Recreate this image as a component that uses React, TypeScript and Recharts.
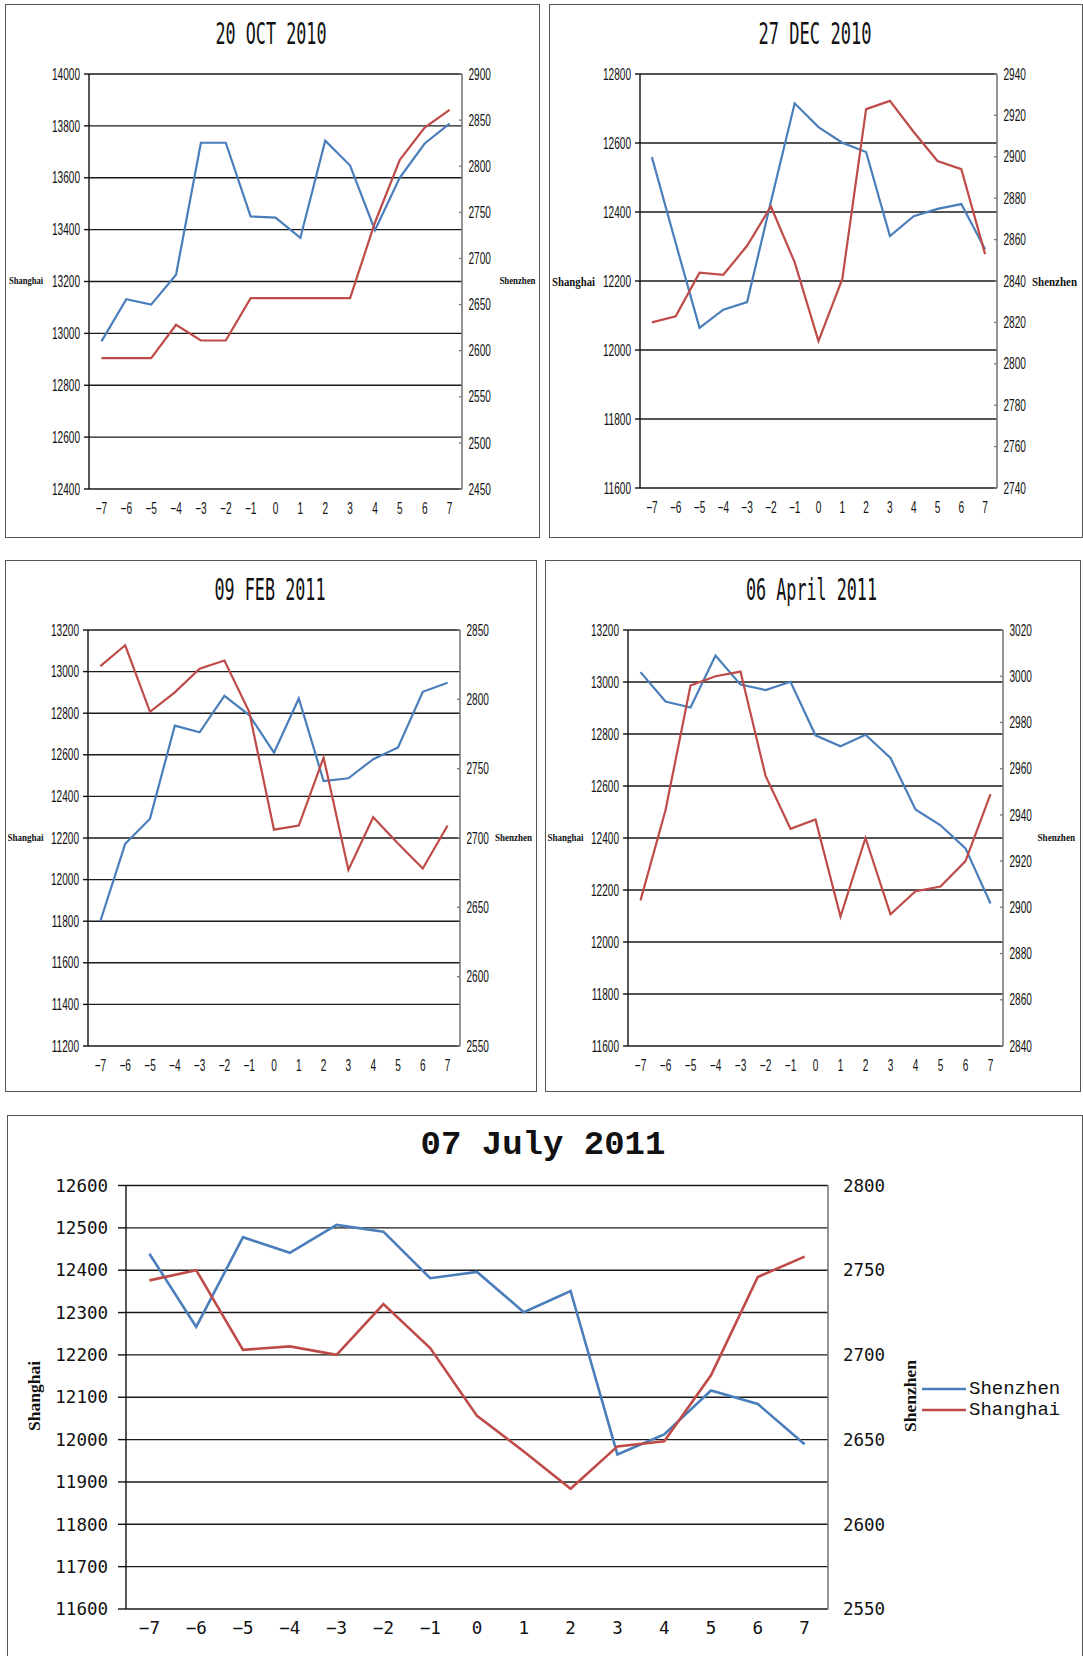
import React from 'react';
import { LineChart, Line, XAxis, YAxis, CartesianGrid, Legend } from 'recharts';

const BLUE = '#4A7EBB';
const RED = '#BE4B48';

// trading days around each date
const xCats = [-7, -6, -5, -4, -3, -2, -1, 0, 1, 2, 3, 4, 5, 6, 7];

// 20 Oct 2010
const oct10Shenzhen = [12969, 13132, 13111, 13226, 13735, 13735, 13451, 13446, 13368, 13743, 13647, 13398, 13601, 13732, 13809];
const oct10Shanghai = [2592, 2592, 2592, 2628, 2611, 2611, 2657, 2657, 2657, 2657, 2657, 2739, 2807, 2842, 2861];
const oct10Left = [12400, 12600, 12800, 13000, 13200, 13400, 13600, 13800, 14000];
const oct10Right = [2450, 2500, 2550, 2600, 2650, 2700, 2750, 2800, 2850, 2900];

// 27 Dec 2010
const dec10Shenzhen = [12559, 12310, 12064, 12117, 12139, 12430, 12715, 12646, 12601, 12574, 12330, 12388, 12409, 12423, 12292];
const dec10Shanghai = [2820, 2823, 2844, 2843, 2857, 2876, 2849, 2811, 2841, 2923, 2927, 2912, 2898, 2894, 2853];
const dec10Left = [11600, 11800, 12000, 12200, 12400, 12600, 12800];
const dec10Right = [2740, 2760, 2780, 2800, 2820, 2840, 2860, 2880, 2900, 2920, 2940];

// 09 Feb 2011
const feb11Shenzhen = [11801, 12172, 12293, 12740, 12708, 12883, 12791, 12610, 12871, 12474, 12487, 12579, 12635, 12903, 12946];
const feb11Shanghai = [2824, 2839, 2791, 2805, 2822, 2828, 2791, 2706, 2709, 2758, 2677, 2715, 2696, 2678, 2709];
const feb11Left = [11200, 11400, 11600, 11800, 12000, 12200, 12400, 12600, 12800, 13000, 13200];
const feb11Right = [2550, 2600, 2650, 2700, 2750, 2800, 2850];

// 06 April 2011
const apr11Shenzhen = [13038, 12925, 12902, 13102, 12990, 12969, 13001, 12795, 12753, 12797, 12708, 12510, 12449, 12360, 12148];
const apr11Shanghai = [2903, 2942, 2996, 3000, 3002, 2957, 2934, 2938, 2896, 2930, 2897, 2907, 2909, 2920, 2949];
const apr11Left = [11600, 11800, 12000, 12200, 12400, 12600, 12800, 13000, 13200];
const apr11Right = [2840, 2860, 2880, 2900, 2920, 2940, 2960, 2980, 3000, 3020];

// 07 July 2011
const jul11Shenzhen = [12439, 12266, 12478, 12441, 12507, 12491, 12381, 12396, 12301, 12351, 11965, 12012, 12116, 12084, 11989];
const jul11Shanghai = [2744, 2750, 2703, 2705, 2700, 2730, 2704, 2664, 2643, 2621, 2646, 2649, 2688, 2746, 2758];
const jul11Left = [11600, 11700, 11800, 11900, 12000, 12100, 12200, 12300, 12400, 12500, 12600];
const jul11Right = [2550, 2600, 2650, 2700, 2750, 2800];

type Box = { x: number; y: number; w: number; h: number };
type Plot = { l: number; r: number; t: number; b: number };
type Txt = { fs: number; sx: number; font: string };

interface PanelCfg {
  box: Box;
  plot: Plot;
  blue: number[];
  red: number[];
  lTicks: number[];
  rTicks: number[];
  title: string;
  titleCx: number;
  titleW: number;
  lab: { lx: number; lw: number; lfs: number; rx: number; rw: number; rfs: number; base: number };
  big?: boolean;
}

const minus = (v: number) => (v < 0 ? '\u2212' + Math.abs(v) : String(v));

function tickRenderer(st: Txt, bottom: boolean, fmt?: (v: number) => string) {
  return (p: any) => (
    <text
      transform={`translate(${p.x},${p.y}) scale(${st.sx},1)`}
      textAnchor={p.textAnchor}
      dy={bottom ? '0.71em' : '0.355em'}
      fontSize={st.fs}
      fontFamily={st.font}
      fill="#111"
    >
      {fmt ? fmt(p.payload.value) : p.payload.value}
    </text>
  );
}

const renderLegend = (props: any) => (
  <div>
    {(props.payload || []).map((e: any) => (
      <div key={e.value} style={{ display: 'flex', alignItems: 'center', height: 21 }}>
        <svg width={44} height={4} style={{ display: 'block' }}>
          <line x1={0} y1={2} x2={44} y2={2} stroke={e.color} strokeWidth={2.6} />
        </svg>
        <span style={{ fontFamily: '"Liberation Mono", monospace', fontSize: 19, marginLeft: 3, color: '#111' }}>
          {e.value}
        </span>
      </div>
    ))}
  </div>
);

function Panel({ c }: { c: PanelCfg }) {
  const { box, plot } = c;
  const big = !!c.big;
  const rows = xCats.map((x, i) => ({ x, b: c.blue[i], r: c.red[i] }));
  const marks = [...xCats.map((v) => v - 0.5), xCats[xCats.length - 1] + 0.5];
  const txt: Txt = big
    ? { fs: 17.5, sx: 1, font: '"DejaVu Sans Mono", monospace' }
    : { fs: 16, sx: 0.63, font: '"Liberation Sans", Arial, sans-serif' };
  const rightW = big ? 80 : box.w - plot.r;
  const marginRight = big ? box.w - plot.r - rightW : 0;
  const lw = big ? 2.6 : 2.2;
  const serif = '"Liberation Serif", serif';

  return (
    <>
      <div
        style={{
          position: 'absolute',
          left: box.x,
          top: box.y,
          width: box.w,
          height: box.h,
          border: '1.5px solid #555',
          boxSizing: 'border-box',
        }}
      />
      <div style={{ position: 'absolute', left: box.x, top: box.y }}>
        <LineChart
          width={box.w}
          height={box.h}
          data={rows}
          margin={{ top: plot.t, right: marginRight, bottom: 0, left: 0 }}
        >
          <CartesianGrid xAxisId="v" yAxisId="l" vertical={false} stroke="#1a1a1a" strokeWidth={1.4} />
          <XAxis
            xAxisId="m"
            type="number"
            dataKey="x"
            domain={[-7.5, 7.5]}
            ticks={marks}
            interval={0}
            allowDataOverflow
            height={0}
            tickSize={5}
            tickFormatter={() => ''}
            axisLine={{ stroke: '#111', strokeWidth: 1.4 }}
            tickLine={{ stroke: '#111', strokeWidth: 1.4 }}
          />
          <XAxis
            xAxisId="v"
            type="number"
            dataKey="x"
            domain={[-7.5, 7.5]}
            ticks={xCats}
            interval={0}
            allowDataOverflow
            height={box.h - plot.b}
            tickSize={0}
            tickMargin={big ? 13 : 14}
            axisLine={false}
            tickLine={false}
            tick={tickRenderer(txt, true, minus)}
          />
          <YAxis
            yAxisId="l"
            orientation="left"
            type="number"
            domain={[c.lTicks[0], c.lTicks[c.lTicks.length - 1]]}
            ticks={c.lTicks}
            interval={0}
            allowDataOverflow
            width={plot.l}
            tickSize={big ? 8 : 5}
            tickMargin={big ? 10 : 4}
            axisLine={{ stroke: '#111', strokeWidth: 1.4 }}
            tickLine={{ stroke: '#111', strokeWidth: 1.4 }}
            tick={tickRenderer(txt, false)}
          />
          <YAxis
            yAxisId="r"
            orientation="right"
            type="number"
            domain={[c.rTicks[0], c.rTicks[c.rTicks.length - 1]]}
            ticks={c.rTicks}
            interval={0}
            allowDataOverflow
            width={rightW}
            tickSize={big ? 0 : -3}
            tickMargin={big ? 15 : 9.5}
            axisLine={{ stroke: '#7a7a7a', strokeWidth: 1.6 }}
            tickLine={big ? false : { stroke: '#7a7a7a', strokeWidth: 1.3 }}
            tick={tickRenderer(txt, false)}
          />
          <Line
            xAxisId="v"
            yAxisId="l"
            dataKey="b"
            name="Shenzhen"
            stroke={BLUE}
            strokeWidth={lw}
            dot={false}
            activeDot={false}
            isAnimationActive={false}
          />
          <Line
            xAxisId="v"
            yAxisId="r"
            dataKey="r"
            name="Shanghai"
            stroke={RED}
            strokeWidth={lw}
            dot={false}
            activeDot={false}
            isAnimationActive={false}
          />
          {big && (
            <Legend
              layout="vertical"
              align="center"
              verticalAlign="middle"
              itemSorter="dataKey"
              content={renderLegend}
              wrapperStyle={{ left: 915, top: 263, width: 150 }}
            />
          )}
        </LineChart>
      </div>
      <svg
        width={box.w}
        height={box.h}
        style={{ position: 'absolute', left: box.x, top: box.y, overflow: 'visible', pointerEvents: 'none' }}
      >
        {big ? (
          <>
            <text
              x={c.titleCx}
              y={39}
              textAnchor="middle"
              fontFamily='"Liberation Mono", monospace'
              fontWeight="bold"
              fontSize={34}
              fill="#111"
            >
              {c.title}
            </text>
            <text
              transform={`translate(${c.lab.lx},${c.lab.base}) rotate(-90)`}
              textAnchor="middle"
              fontFamily={serif}
              fontWeight="bold"
              fontSize={c.lab.lfs}
              fill="#111"
            >
              Shanghai
            </text>
            <text
              transform={`translate(${c.lab.rx},${c.lab.base}) rotate(-90)`}
              textAnchor="middle"
              fontFamily={serif}
              fontWeight="bold"
              fontSize={c.lab.rfs}
              fill="#111"
            >
              Shenzhen
            </text>
          </>
        ) : (
          <>
            <text
              x={c.titleCx}
              y={39.5}
              textAnchor="middle"
              fontFamily='"DejaVu Sans Mono", monospace'
              fontSize={30}
              textLength={c.titleW}
              lengthAdjust="spacingAndGlyphs"
              fill="#111"
            >
              {c.title}
            </text>
            <text
              x={c.lab.lx}
              y={c.lab.base}
              fontFamily={serif}
              fontWeight="bold"
              fontSize={c.lab.lfs}
              textLength={c.lab.lw}
              lengthAdjust="spacingAndGlyphs"
              fill="#111"
            >
              Shanghai
            </text>
            <text
              x={c.lab.rx}
              y={c.lab.base}
              fontFamily={serif}
              fontWeight="bold"
              fontSize={c.lab.rfs}
              textLength={c.lab.rw}
              lengthAdjust="spacingAndGlyphs"
              fill="#111"
            >
              Shenzhen
            </text>
          </>
        )}
      </svg>
    </>
  );
}

const panels: PanelCfg[] = [
  {
    box: { x: 5, y: 4, w: 535, h: 534 },
    plot: { l: 84, r: 457, t: 70, b: 485 },
    blue: oct10Shenzhen,
    red: oct10Shanghai,
    lTicks: oct10Left,
    rTicks: oct10Right,
    title: '20 OCT 2010',
    titleCx: 266,
    titleW: 111,
    lab: { lx: 4, lw: 34, lfs: 11, rx: 494.5, rw: 36, rfs: 11, base: 280 },
  },
  {
    box: { x: 549, y: 4, w: 534, h: 534 },
    plot: { l: 91, r: 448, t: 70, b: 484 },
    blue: dec10Shenzhen,
    red: dec10Shanghai,
    lTicks: dec10Left,
    rTicks: dec10Right,
    title: '27 DEC 2010',
    titleCx: 266,
    titleW: 113,
    lab: { lx: 3, lw: 43, lfs: 13, rx: 483, rw: 45, rfs: 12.5, base: 282 },
  },
  {
    box: { x: 5, y: 560, w: 532, h: 532 },
    plot: { l: 83, r: 455, t: 70, b: 486 },
    blue: feb11Shenzhen,
    red: feb11Shanghai,
    lTicks: feb11Left,
    rTicks: feb11Right,
    title: '09 FEB 2011',
    titleCx: 265,
    titleW: 111,
    lab: { lx: 2.6, lw: 36, lfs: 11, rx: 490, rw: 37, rfs: 11, base: 281 },
  },
  {
    box: { x: 545, y: 560, w: 536, h: 532 },
    plot: { l: 83, r: 458, t: 70, b: 486 },
    blue: apr11Shenzhen,
    red: apr11Shanghai,
    lTicks: apr11Left,
    rTicks: apr11Right,
    title: '06 April 2011',
    titleCx: 266.5,
    titleW: 131,
    lab: { lx: 2.6, lw: 36, lfs: 11, rx: 492.5, rw: 37.5, rfs: 10.8, base: 281 },
  },
  {
    box: { x: 7, y: 1115, w: 1076, h: 548 },
    plot: { l: 119, r: 821, t: 70.5, b: 494 },
    blue: jul11Shenzhen,
    red: jul11Shanghai,
    lTicks: jul11Left,
    rTicks: jul11Right,
    title: '07 July 2011',
    titleCx: 536,
    titleW: 245,
    lab: { lx: 33, lw: 71, lfs: 17.5, rx: 909, rw: 71, rfs: 17.5, base: 281 },
    big: true,
  },
];

export default function App() {
  return (
    <div style={{ position: 'relative', width: 1083, height: 1656, overflow: 'hidden', background: '#fff' }}>
      <style>{'body{margin:0;background:#fff}'}</style>
      {panels.map((c) => (
        <Panel key={c.title} c={c} />
      ))}
    </div>
  );
}
